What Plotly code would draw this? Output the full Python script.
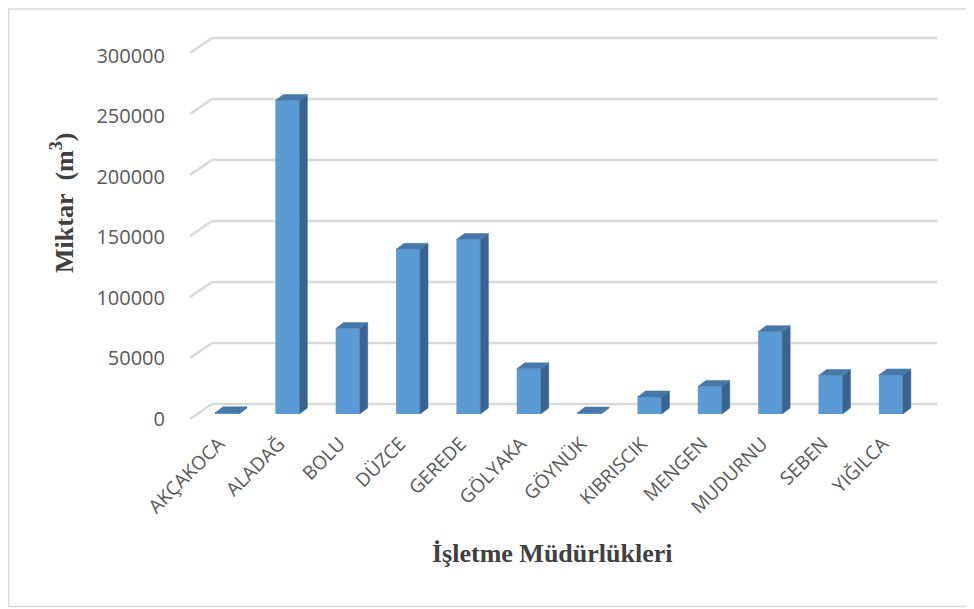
import plotly.graph_objects as go

# ---------------- data ----------------
categories = ["AKÇAKOCA", "ALADAĞ", "BOLU", "DÜZCE", "GEREDE", "GÖLYAKA",
              "GÖYNÜK", "KIBRISCIK", "MENGEN", "MUDURNU", "SEBEN", "YIĞILCA"]
values = [1000, 257000, 70000, 135000, 143000, 37000,
          800, 14000, 22500, 67500, 31500, 32000]
y_tickvals = [0, 50000, 100000, 150000, 200000, 250000, 300000]
y_ticktext = ["0", "50000", "100000", "150000", "200000", "250000", "300000"]
x_title = "İşletme Müdürlükleri"
y_title = "Miktar\u00a0\u00a0(m<sup>3</sup>)"

# ---------------- geometry (pixel based styling) ----------------
OFF = 8                                   # browser body margin
W, H = 974 - OFF, 609 - OFF
L, R, T, B = 180 - OFF, 950 - OFF, 30 - OFF, 430 - OFF
PX_PER_CAT = 60.35
X0_PX = 227 - OFF
PPU = 61 / 50000
Y0_PX = 414 - OFF
PPU_LBL = 60.5 / 50000
Y0_LBL_PX = 418.5 - OFF

def xd(screen_px):
    return (screen_px - OFF - X0_PX) / PX_PER_CAT

def ydoff(dpx):
    return dpx / PPU

def xp(screen_px):
    return (screen_px - OFF - L) / (R - L)

def yp(screen_px):
    return (B - (screen_px - OFF)) / (B - T)

x_range = [(L - X0_PX) / PX_PER_CAT, (R - X0_PX) / PX_PER_CAT]
y_range = [-(B - Y0_PX) / PPU, (Y0_PX - T) / PPU]
y2_range = [-(B - Y0_LBL_PX) / PPU_LBL, (Y0_LBL_PX - T) / PPU_LBL]

pos = list(range(len(categories)))
bar_w = 24 / PX_PER_CAT
dx = 8 / PX_PER_CAT
dy = ydoff(6)

FRONT = "#5B9BD5"
SIDE = "#3A648F"
TOP = "#4778AB"
GRID = "#D9D9D9"
TXT = "#595959"

fig = go.Figure()

shapes = []
back_shift = ydoff(10)
front_shift = -ydoff(5)
for v in y_tickvals:
    shapes.append(dict(type="line", xref="x", yref="y", layer="below",
                       x0=xd(190), y0=v + front_shift,
                       x1=xd(212), y1=v + back_shift,
                       line=dict(color=GRID, width=2.5)))
    shapes.append(dict(type="line", xref="x", yref="y", layer="below",
                       x0=xd(212), y0=v + back_shift,
                       x1=xd(937), y1=v + back_shift,
                       line=dict(color=GRID, width=2.5)))

shapes.append(dict(type="rect", xref="paper", yref="paper",
                   x0=xp(8.5), x1=xp(973), y0=yp(606.5), y1=yp(9),
                   line=dict(color=GRID, width=1.5)))

fig.add_trace(go.Bar(x=pos, y=values, width=bar_w,
                     marker=dict(color=FRONT, line=dict(width=0)),
                     showlegend=False))

sx, sy, tx, ty = [], [], [], []
for p, v in zip(pos, values):
    xl, xr = p - bar_w / 2, p + bar_w / 2
    sx += [xr, xr + dx, xr + dx, xr, xr, None]
    sy += [0, dy, v + dy, v, 0, None]
    tx += [xl, xr, xr + dx, xl + dx, xl, None]
    ty += [v, v, v + dy, v + dy, v, None]
fig.add_trace(go.Scatter(x=sx, y=sy, mode="lines", fill="toself",
                         fillcolor=SIDE, line=dict(color=SIDE, width=0.5),
                         hoverinfo="skip", showlegend=False))
fig.add_trace(go.Scatter(x=tx, y=ty, mode="lines", fill="toself",
                         fillcolor=TOP, line=dict(color=TOP, width=0.5),
                         hoverinfo="skip", showlegend=False))

fig.add_trace(go.Scatter(x=[pos[0]], y=[0], yaxis="y2", mode="markers",
                         marker=dict(opacity=0), hoverinfo="skip",
                         showlegend=False))

fig.update_layout(
    width=W, height=H,
    margin=dict(l=L, r=W - R, t=T, b=H - B),
    paper_bgcolor="white", plot_bgcolor="white",
    xaxis=dict(range=x_range, tickmode="array", tickvals=pos,
               ticktext=categories, tickangle=-45,
               tickfont=dict(family="Open Sans", size=19, color=TXT),
               showgrid=False, zeroline=False, showline=False, ticks="",
               automargin=False, anchor="free", position=yp(428),
               ticklabelshift=-8),
    yaxis=dict(range=y_range, showgrid=False, zeroline=False,
               showticklabels=False, showline=False, ticks="",
               automargin=False),
    yaxis2=dict(range=y2_range, overlaying="y", side="left",
                tickmode="array", tickvals=y_tickvals, ticktext=y_ticktext,
                tickfont=dict(family="Open Sans", size=20, color=TXT),
                showgrid=False, zeroline=False, showline=False,
                ticks="", ticklabelstandoff=14, automargin=False),
    shapes=shapes,
    annotations=[
        dict(text="<b>" + x_title + "</b>", xref="paper", yref="paper",
             x=xp(552), y=yp(553),
             showarrow=False, xanchor="center", yanchor="middle",
             font=dict(family="Liberation Serif", size=26, color="#404040")),
        dict(text="<b>" + y_title + "</b>", xref="paper", yref="paper",
             x=xp(62), y=yp(203),
             showarrow=False, xanchor="center", yanchor="middle",
             textangle=-90,
             font=dict(family="Liberation Serif", size=26, color="#404040")),
    ],
)

fig.write_html("out.html")
